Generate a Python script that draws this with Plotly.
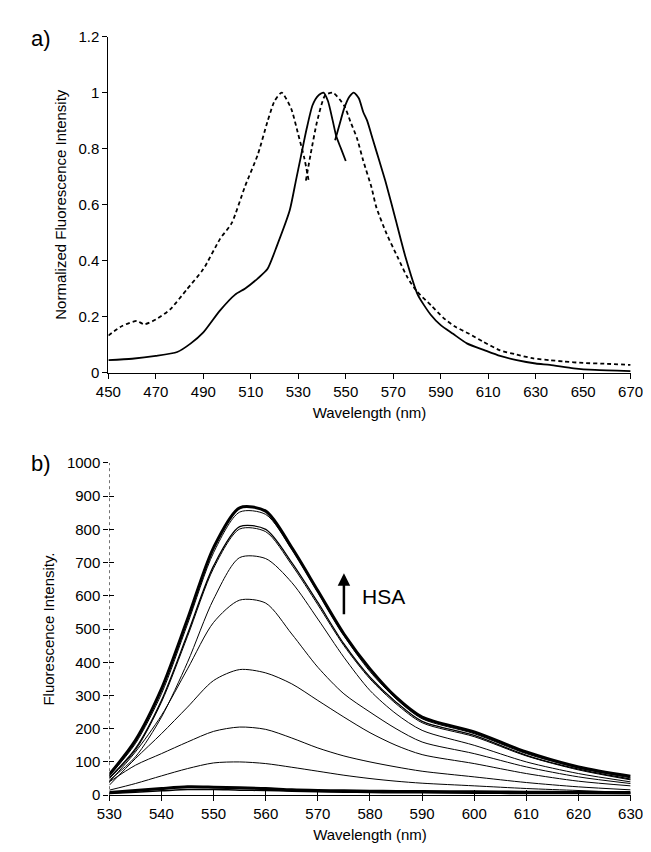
import plotly.graph_objects as go

# ---------- panel a) data ----------
dash1_x = [450, 456, 462, 465, 470, 476, 483, 490, 497, 502, 507.5, 513, 517, 520, 523, 527, 530, 532.5, 534.5]
dash1_y = [0.133, 0.168, 0.185, 0.173, 0.19, 0.226, 0.297, 0.37, 0.477, 0.535, 0.664, 0.78, 0.896, 0.97, 1.0, 0.943, 0.85, 0.768, 0.68]

dash2_x = [533.2, 535.2, 537.9, 541.3, 544.6, 549.3, 552, 554.7, 557.4, 560.8, 562.8, 567, 572, 576, 580, 586, 591, 596, 602, 608, 615, 622, 629, 636, 642, 650, 660, 670]
dash2_y = [0.686, 0.78, 0.896, 0.99, 1.0, 0.954, 0.896, 0.838, 0.756, 0.663, 0.593, 0.5, 0.41, 0.34, 0.29, 0.24, 0.197, 0.165, 0.139, 0.11, 0.08, 0.065, 0.051, 0.045, 0.04, 0.035, 0.032, 0.028]

solid1_x = [450, 460, 470, 479, 484.6, 490, 496.8, 503.4, 507.5, 513, 517, 521, 526.4, 529, 531, 533.5, 536, 538.5, 540.6, 542.5, 544.5, 546, 548, 550]
solid1_y = [0.045, 0.05, 0.06, 0.074, 0.104, 0.144, 0.22, 0.279, 0.30, 0.337, 0.37, 0.453, 0.58, 0.686, 0.768, 0.87, 0.955, 0.99, 1.0, 0.97, 0.9, 0.844, 0.8, 0.756]

solid2_x = [545.5, 547.5, 549.3, 551.5, 553.4, 555.5, 557.4, 559, 561.5, 564, 567, 571, 575, 580.3, 585.7, 590, 595.2, 601, 608.6, 615, 622, 630, 636, 646, 655, 670]
solid2_y = [0.83, 0.89, 0.943, 0.985, 1.0, 0.98, 0.93, 0.9, 0.83, 0.76, 0.675, 0.547, 0.418, 0.279, 0.208, 0.17, 0.139, 0.105, 0.08, 0.06, 0.045, 0.033, 0.028, 0.016, 0.01, 0.006]

a_xticks = [450, 470, 490, 510, 530, 550, 570, 590, 610, 630, 650, 670]
a_yticks = [0, 0.2, 0.4, 0.6, 0.8, 1, 1.2]
a_ytext = ["0", "0.2", "0.4", "0.6", "0.8", "1", "1.2"]

# ---------- panel b) data ----------
wl_b = [530, 535, 540, 545, 550, 555, 560, 565, 570, 575, 580, 585, 590, 600, 610, 620, 630]
b_t1 = [62, 165, 320, 530, 745, 865, 855, 745, 615, 485, 380, 295, 235, 190, 130, 85, 57]
b_t2 = [58, 155, 305, 515, 730, 852, 845, 740, 610, 480, 372, 290, 230, 185, 125, 82, 52]
b_t3 = [52, 140, 285, 485, 690, 808, 800, 700, 580, 455, 355, 280, 222, 180, 120, 78, 48]
b_t4 = [50, 135, 280, 478, 683, 801, 793, 693, 573, 450, 350, 275, 218, 176, 118, 76, 46]
b_t5 = [45, 115, 235, 400, 590, 715, 712, 640, 530, 415, 315, 245, 195, 150, 100, 65, 40]
b_t6 = [40, 130, 240, 380, 520, 587, 578, 485, 385, 305, 250, 200, 160, 125, 85, 55, 35]
b_t7 = [30, 110, 185, 265, 345, 378, 368, 335, 285, 235, 188, 150, 122, 95, 65, 42, 28]
b_t8 = [40, 90, 125, 160, 192, 205, 198, 172, 142, 118, 100, 85, 72, 55, 38, 25, 16]
b_t9 = [15, 35, 58, 80, 97, 100, 95, 84, 72, 60, 50, 42, 36, 28, 20, 14, 8]
b_t10 = [8, 14, 20, 25, 24, 22, 20, 16, 14, 13, 12, 11, 11, 10, 9, 8, 8]
b_t11 = [5, 9, 13, 17, 17, 15, 14, 12, 10, 9, 8, 7, 7, 6, 5, 5, 4]

b_series = [
    (b_t1, 3.0), (b_t2, 1.0), (b_t3, 1.3), (b_t4, 1.0), (b_t5, 1.0), (b_t6, 1.0),
    (b_t7, 1.0), (b_t8, 1.0), (b_t9, 1.0), (b_t10, 3.0), (b_t11, 1.5),
]
b_xticks = [530, 540, 550, 560, 570, 580, 590, 600, 610, 620, 630]
b_yticks = [0, 100, 200, 300, 400, 500, 600, 700, 800, 900, 1000]

FONT = "Liberation Sans, Arial, sans-serif"

fig = go.Figure()

for xs, ys in [(dash1_x, dash1_y), (dash2_x, dash2_y)]:
    fig.add_trace(go.Scatter(x=xs, y=ys, mode="lines", xaxis="x", yaxis="y",
                             line=dict(color="black", width=1.8, dash="4px,3px", shape="spline", smoothing=0.6),
                             showlegend=False, hoverinfo="skip"))
for xs, ys in [(solid1_x, solid1_y), (solid2_x, solid2_y)]:
    fig.add_trace(go.Scatter(x=xs, y=ys, mode="lines", xaxis="x", yaxis="y",
                             line=dict(color="black", width=1.8, shape="spline", smoothing=0.6),
                             showlegend=False, hoverinfo="skip"))

for ys, w in b_series:
    fig.add_trace(go.Scatter(x=wl_b, y=ys, mode="lines", xaxis="x2", yaxis="y2",
                             line=dict(color="black", width=w, shape="spline", smoothing=0.8),
                             showlegend=False, hoverinfo="skip"))

# invisible trace so the overlay axes (inner half of the crossing ticks) are drawn
fig.add_trace(go.Scatter(x=[wl_b[0]], y=[b_yticks[0]], mode="markers", xaxis="x3", yaxis="y3",
                         marker=dict(opacity=0), showlegend=False, hoverinfo="skip"))

W, H = 651, 852
def px_x(p):
    return p / W
def px_y(p):
    return 1 - p / H

tick_font = dict(family=FONT, size=15, color="black")
axis_common = dict(showgrid=False, zeroline=False, showline=True, linecolor="black", linewidth=1,
                   ticks="outside", ticklen=5, tickcolor="black", tickwidth=1, tickfont=tick_font)
title_font = dict(family=FONT, size=15, color="black")

fig.update_layout(
    width=W, height=H,
    margin=dict(l=0, r=0, t=0, b=0),
    paper_bgcolor="white", plot_bgcolor="white",
    font=dict(family=FONT, color="black"),
    xaxis=dict(domain=[px_x(91), px_x(635)], anchor="y", range=[450, 670],
               tickvals=a_xticks, ticktext=[str(v) for v in a_xticks],
               title=dict(text="Wavelength (nm)", font=title_font, standoff=8),
               **axis_common),
    yaxis=dict(domain=[px_y(363), px_y(20)], anchor="x", range=[0, 1.2],
               tickvals=a_yticks, ticktext=a_ytext,
               title=dict(text="Normalized Fluorescence Intensity", font=title_font, standoff=8),
               **axis_common),
    xaxis2=dict(domain=[px_x(92), px_x(635)], anchor="y2", range=[530, 630],
                tickvals=b_xticks, ticktext=[str(v) for v in b_xticks],
                title=dict(text="Wavelength (nm)", font=title_font, standoff=8),
                **axis_common),
    yaxis2=dict(domain=[px_y(794), px_y(455)], anchor="x2", range=[0, 1000],
                tickvals=b_yticks, ticktext=[str(v) for v in b_yticks],
                title=dict(text="Fluorescence Intensity.", font=title_font, standoff=8),
                showgrid=False, zeroline=False, showline=False,
                ticks="outside", ticklen=5, tickcolor="black", tickwidth=1, tickfont=tick_font),
    xaxis3=dict(overlaying="x2", anchor="y2", range=[530, 630], tickvals=b_xticks,
                showticklabels=False, ticks="inside", ticklen=5, tickcolor="black", tickwidth=1,
                showgrid=False, zeroline=False, showline=False),
    yaxis3=dict(overlaying="y2", anchor="x2", range=[0, 1000], tickvals=b_yticks,
                showticklabels=False, ticks="inside", ticklen=5, tickcolor="black", tickwidth=1,
                showgrid=False, zeroline=False, showline=False),
    shapes=[
        dict(type="line", xref="x2", yref="y2", x0=530, x1=530, y0=0, y1=1000,
             line=dict(color="black", width=1, dash="dot"), layer="above"),
    ],
    annotations=[
        dict(text="a)", x=px_x(8), y=px_y(22), xref="paper", yref="paper", xanchor="left", yanchor="middle",
             showarrow=False, font=dict(family=FONT, size=22, color="black")),
        dict(text="b)", x=px_x(8), y=px_y(456), xref="paper", yref="paper", xanchor="left", yanchor="middle",
             showarrow=False, font=dict(family=FONT, size=22, color="black")),
        dict(text="", x=575, y=668, xref="x2", yref="y2", ax=575, ay=540, axref="x2", ayref="y2",
             showarrow=True, arrowhead=2, arrowsize=1, arrowwidth=2.5, arrowcolor="black"),
        dict(text="HSA", x=578, y=598, xref="x2", yref="y2", xanchor="left", yanchor="middle",
             showarrow=False, font=dict(family=FONT, size=21, color="black")),
    ],
)

fig.write_html("out.html")
